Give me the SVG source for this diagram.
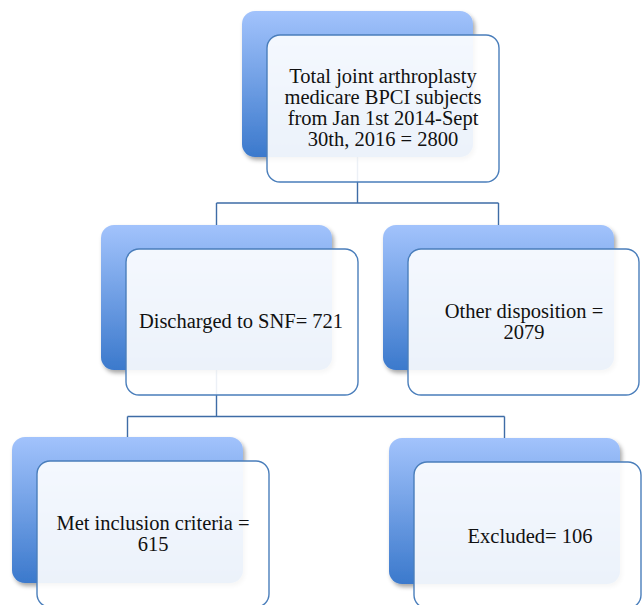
<svg xmlns="http://www.w3.org/2000/svg" width="642" height="605" viewBox="0 0 642 605">
<defs>
<linearGradient id="bg" x1="0" y1="0" x2="0" y2="1">
<stop offset="0" stop-color="#a2c3fc"/>
<stop offset="1" stop-color="#3b79cc"/>
</linearGradient>
<filter id="sh" x="-10%" y="-10%" width="125%" height="130%">
<feDropShadow dx="2" dy="3" stdDeviation="2" flood-color="#000" flood-opacity="0.35"/>
</filter>
</defs>
<style>
.back{fill:url(#bg);filter:url(#sh)}
.front{fill:#fff;fill-opacity:0.9;stroke:#4a7ebb;stroke-width:1.4}
.conn{fill:none;stroke:#3e6ca6;stroke-width:1.4}
text{font-family:"Liberation Serif","Times New Roman",serif;font-size:20.5px;fill:#111;text-anchor:middle}
</style>
<rect width="642" height="605" fill="#fff"/>
<g id="connectors">
<path class="conn" d="M357.5,157 V203 M216.5,203 H498.5 M216.5,203 V225 M498.5,203 V225"/>
<path class="conn" d="M216.5,370 V416.5 M127.5,416.5 H504.5 M127.5,416.5 V437 M504.5,416.5 V438"/>
</g>
<g id="n_total">
<rect class="back" x="242" y="11" width="231" height="146" rx="13"/>
<rect class="front" x="267" y="35" width="232" height="147" rx="13"/>
<text x="383" y="83">Total joint arthroplasty</text>
<text x="383" y="104">medicare BPCI subjects</text>
<text x="383" y="125">from Jan 1st 2014-Sept</text>
<text x="383" y="146">30th, 2016 = 2800</text>
</g>
<g id="n_snf">
<rect class="back" x="101" y="225" width="231" height="145" rx="13"/>
<rect class="front" x="126" y="249" width="232" height="146" rx="13"/>
<text x="241" y="328">Discharged to SNF= 721</text>
</g>
<g id="n_other">
<rect class="back" x="383" y="225" width="231" height="145" rx="13"/>
<rect class="front" x="408" y="249" width="231" height="146" rx="13"/>
<text x="524" y="318">Other disposition =</text>
<text x="524" y="339">2079</text>
</g>
<g id="n_met">
<rect class="back" x="12" y="437" width="231" height="146" rx="13"/>
<rect class="front" x="37" y="461" width="232" height="146" rx="13"/>
<text x="153" y="530">Met inclusion criteria =</text>
<text x="153" y="551">615</text>
</g>
<g id="n_excl">
<rect class="back" x="389" y="438" width="231" height="146" rx="13"/>
<rect class="front" x="414" y="462" width="227" height="146" rx="13"/>
<text x="530" y="543">Excluded= 106</text>
</g>
</svg>
